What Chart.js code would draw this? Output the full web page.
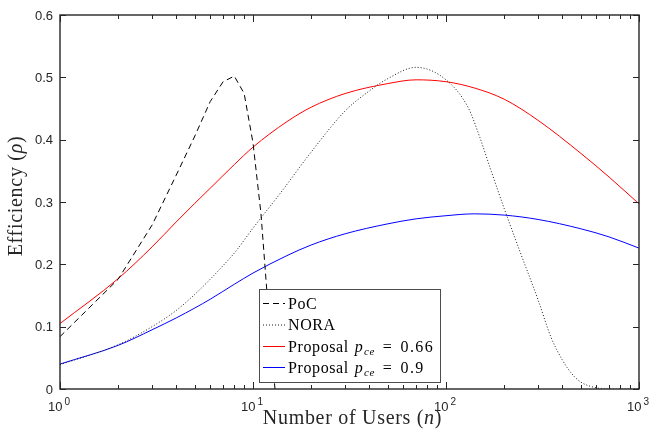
<!DOCTYPE html>
<html>
<head>
<meta charset="utf-8">
<script src="https://cdn.jsdelivr.net/npm/chart.js@4.4.0/dist/chart.umd.min.js"></script>
<style>
  html, body { margin: 0; padding: 0; background: #fff; }
  #wrap { position: relative; width: 652px; height: 436px; }
</style>
</head>
<body>
<div id="wrap"><canvas id="chart" width="652" height="436"></canvas></div>
<script>
// PoC (integer n, dashed)
const pocUsers = [1, 2, 3, 4, 5, 6, 7, 8, 9, 10, 11, 12, 13];
const pocEff = [0.084, 0.176, 0.263, 0.343, 0.406, 0.461, 0.493, 0.502, 0.474, 0.395, 0.281, 0.127, 0.0];

// NORA (dotted)
const noraUsers = [1, 2, 3, 4, 5, 6, 7, 8, 10, 14, 20, 30, 40, 50, 70, 100, 130, 150, 170, 200, 240, 300, 350, 400, 450, 500, 600, 700, 1000];
const noraEff = [0.039, 0.071, 0.1, 0.126, 0.152, 0.176, 0.198, 0.218, 0.258, 0.316, 0.38, 0.446, 0.478, 0.498, 0.516, 0.496, 0.452, 0.403, 0.353, 0.29, 0.223, 0.143, 0.083, 0.047, 0.024, 0.011, 0.002, 0, 0];

// Proposal curves
const propUsers = [1, 2, 3, 4, 5, 6, 8, 10, 15, 20, 30, 50, 70, 100, 140, 200, 300, 500, 700, 1000];
const prop066Eff = [0.105, 0.177, 0.228, 0.268, 0.298, 0.322, 0.36, 0.388, 0.429, 0.452, 0.474, 0.49, 0.496, 0.493, 0.483, 0.465, 0.431, 0.378, 0.34, 0.297];
const prop09Eff = [0.04, 0.07, 0.095, 0.114, 0.13, 0.144, 0.168, 0.186, 0.214, 0.231, 0.249, 0.265, 0.273, 0.278, 0.281, 0.279, 0.272, 0.257, 0.244, 0.226];

// axes
const yTicks = [0, 0.1, 0.2, 0.3, 0.4, 0.5, 0.6];
const yTickLabels = ['0', '0.1', '0.2', '0.3', '0.4', '0.5', '0.6'];
const xMajor = [1, 10, 100, 1000];
const xMajorExp = ['0', '1', '2', '3'];
const xMinor = [2, 3, 4, 5, 6, 7, 8, 9, 20, 30, 40, 50, 60, 70, 80, 90, 200, 300, 400, 500, 600, 700, 800, 900];

const legendNames = ['PoC', 'NORA', 'Proposal', 'Proposal'];
const legendPce = [null, null, '0.66', '0.9'];

const pts = (xs, ys) => xs.map((x, i) => ({ x: x, y: ys[i] }));

const SERIF = '"Liberation Serif", "Times New Roman", serif';
const SANS = '"Liberation Sans", Arial, sans-serif';
const AXIS = '#262626';

const frame = {
  id: 'frame',
  afterDraw(chart) {
    const ctx = chart.ctx;
    const a = chart.chartArea;
    const xs = chart.scales.x, ys = chart.scales.y;
    ctx.save();

    // inward ticks
    ctx.strokeStyle = AXIS;
    ctx.lineWidth = 1;
    ctx.beginPath();
    yTicks.forEach(v => {
      const py = Math.round(ys.getPixelForValue(v)) + 0.5;
      ctx.moveTo(a.left, py); ctx.lineTo(a.left + 6, py);
      ctx.moveTo(a.right, py); ctx.lineTo(a.right - 6, py);
    });
    xMajor.forEach(v => {
      const px = Math.round(xs.getPixelForValue(v)) + 0.5;
      ctx.moveTo(px, a.bottom); ctx.lineTo(px, a.bottom - 7);
      ctx.moveTo(px, a.top); ctx.lineTo(px, a.top + 7);
    });
    xMinor.forEach(v => {
      const px = Math.round(xs.getPixelForValue(v)) + 0.5;
      ctx.moveTo(px, a.bottom); ctx.lineTo(px, a.bottom - 4);
      ctx.moveTo(px, a.top); ctx.lineTo(px, a.top + 4);
    });
    ctx.stroke();

    // box
    ctx.lineWidth = 1.4;
    ctx.strokeRect(a.left, a.top, a.right - a.left, a.bottom - a.top);

    // y tick labels
    ctx.fillStyle = AXIS;
    ctx.font = '13px ' + SANS;
    ctx.textAlign = 'right';
    ctx.textBaseline = 'middle';
    yTicks.forEach((v, i) => {
      ctx.fillText(yTickLabels[i], a.left - 7, ys.getPixelForValue(v) + 1);
    });

    // x tick labels 10^k
    ctx.textAlign = 'left';
    ctx.textBaseline = 'alphabetic';
    xMajor.forEach((v, i) => {
      const px = xs.getPixelForValue(v);
      ctx.font = '13px ' + SANS;
      const w1 = ctx.measureText('10').width;
      ctx.font = '10px ' + SANS;
      const w2 = ctx.measureText(xMajorExp[i]).width;
      const x0 = px - (w1 + 2 + w2) / 2 - 1;
      ctx.font = '13px ' + SANS;
      ctx.fillText('10', x0, a.bottom + 22);
      ctx.font = '10px ' + SANS;
      ctx.fillText(xMajorExp[i], x0 + w1 + 2, a.bottom + 16);
    });

    // axis titles
    ctx.fillStyle = '#262626';
    ctx.letterSpacing = '0.7px';
    const xt = [['Number of Users (', 'normal'], ['n', 'italic'], [')', 'normal']];
    let tw = 0;
    xt.forEach(p => { ctx.font = p[1] + ' 20px ' + SERIF; tw += ctx.measureText(p[0]).width; });
    let tx = (a.left + a.right) / 2 + 3 - tw / 2;
    xt.forEach(p => { ctx.font = p[1] + ' 20px ' + SERIF; ctx.fillText(p[0], tx, 424); tx += ctx.measureText(p[0]).width; });

    ctx.save();
    ctx.translate(22, 196);
    ctx.rotate(-Math.PI / 2);
    const yt = [['Efficiency (', 'normal'], ['\u03C1', 'italic'], [')', 'normal']];
    tw = 0;
    yt.forEach(p => { ctx.font = p[1] + ' 20px ' + SERIF; tw += ctx.measureText(p[0]).width; });
    tx = -tw / 2;
    yt.forEach(p => { ctx.font = p[1] + ' 20px ' + SERIF; ctx.fillText(p[0], tx, 0); tx += ctx.measureText(p[0]).width; });
    ctx.restore();
    ctx.letterSpacing = '0px';

    // legend
    const lx = 259.5, ly = 289.5, lw = 181, lh = 93;
    ctx.fillStyle = '#fff';
    ctx.fillRect(lx, ly, lw, lh);
    ctx.strokeStyle = '#4d4d4d';
    ctx.lineWidth = 1;
    ctx.strokeRect(lx, ly, lw, lh);
    const rows = [303, 324.5, 346, 367];
    chart.data.datasets.forEach((ds, i) => {
      const ry = rows[i];
      ctx.strokeStyle = ds.borderColor;
      ctx.lineWidth = ds.borderWidth;
      ctx.setLineDash(ds.borderDash || []);
      ctx.beginPath();
      ctx.moveTo(263, ry + 0.5); ctx.lineTo(285, ry + 0.5);
      ctx.stroke();
      ctx.setLineDash([]);
      ctx.fillStyle = '#000';
      ctx.letterSpacing = '0.6px';
      ctx.font = '16px ' + SERIF;
      let x = 288;
      const base = ry + 5.5;
      ctx.fillText(legendNames[i], x, base);
      if (legendPce[i]) {
        x += ctx.measureText(legendNames[i]).width + 6;
        ctx.font = 'italic 16px ' + SERIF;
        ctx.fillText('p', x, base);
        x += ctx.measureText('p').width + 0.5;
        ctx.font = 'italic 11px ' + SERIF;
        ctx.fillText('ce', x, base + 3);
        x += ctx.measureText('ce').width + 8;
        ctx.font = '16px ' + SERIF;
        ctx.fillText('=', x, base);
        x += ctx.measureText('=').width + 8;
        ctx.letterSpacing = '1.4px';
        ctx.fillText(legendPce[i], x, base);
      }
      ctx.letterSpacing = '0px';
    });
    ctx.restore();
  }
};

new Chart(document.getElementById('chart'), {
  type: 'line',
  data: {
    datasets: [
      { label: 'PoC', data: pts(pocUsers, pocEff), borderColor: '#000000', borderWidth: 1, borderDash: [6, 4], tension: 0 },
      { label: 'NORA', data: pts(noraUsers, noraEff), borderColor: '#1a1a1a', borderWidth: 1, borderDash: [1, 2], cubicInterpolationMode: 'monotone' },
      { label: 'Proposal pce = 0.66', data: pts(propUsers, prop066Eff), borderColor: '#ff0000', borderWidth: 1, cubicInterpolationMode: 'monotone' },
      { label: 'Proposal pce = 0.9', data: pts(propUsers, prop09Eff), borderColor: '#0000ff', borderWidth: 1, cubicInterpolationMode: 'monotone' }
    ]
  },
  options: {
    responsive: false,
    animation: false,
    events: [],
    layout: { padding: { left: 60, top: 15, right: 13, bottom: 47 } },
    elements: { point: { radius: 0 } },
    plugins: { legend: { display: false }, tooltip: { enabled: false } },
    scales: {
      x: { type: 'logarithmic', min: 1, max: 1000, display: false },
      y: { type: 'linear', min: 0, max: 0.6, display: false }
    }
  },
  plugins: [frame]
});
</script>
</body>
</html>
